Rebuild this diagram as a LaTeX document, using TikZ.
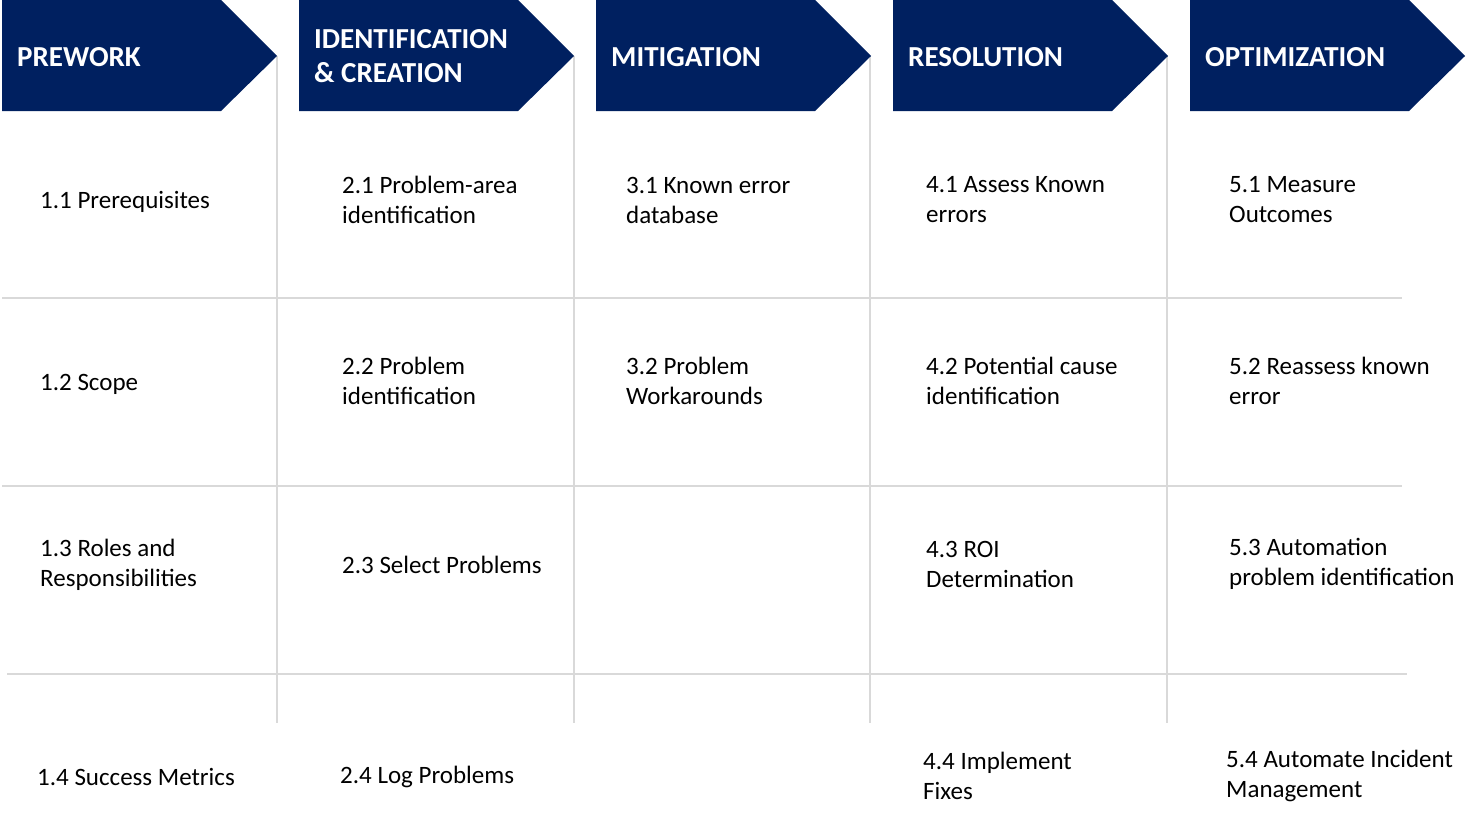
\documentclass[tikz,border=0pt]{standalone}
\usepackage{fontspec}
\setmainfont{Carlito}
\definecolor{navy}{RGB}{0,32,96}
\definecolor{gridgray}{RGB}{217,217,217}
\begin{document}
\begin{tikzpicture}[x=1pt,y=-1pt,
  grid/.style={draw=gridgray,line width=2pt},
  head/.style={fill=navy},
  headtext/.style={anchor=west,inner sep=0pt,text=white,font=\fontsize{29}{34}\selectfont\bfseries,align=left},
  item/.style={anchor=west,inner sep=0pt,font=\fontsize{25}{30}\selectfont,align=left,text=black}]
\useasboundingbox (0,0) rectangle (1477,822);
\fill[white] (0,0) rectangle (1477,822);
% grid lines
\foreach \x in {277,574,870,1167} \draw[grid] (\x,56) -- (\x,723);
\draw[grid] (2,298) -- (1402,298);
\draw[grid] (2,486) -- (1402,486);
\draw[grid] (7,674) -- (1407,674);
% header chevrons
\foreach \x in {2,299,596,893,1190}
  \fill[head] (\x,0) -- (\x+219,0) -- (\x+275,56) -- (\x+219,111) -- (\x,111) -- cycle;
\node[headtext] (h1) at (17,57) {PREWORK};
\node[headtext] (h2) at (314,56) {IDENTIFICATION\\\& CREATION};
\node[headtext] (h3) at (611,57) {MITIGATION};
\node[headtext] (h4) at (908,57) {RESOLUTION};
\node[headtext] (h5) at (1205,57) {OPTIMIZATION};
% column 1
\node[item] (a1) at (40,202) {1.1 Prerequisites};
\node[item] (a2) at (40,384) {1.2 Scope};
\node[item] (a3) at (40,565) {1.3 Roles and\\Responsibilities};
\node[item] (a4) at (37,777) {1.4 Success Metrics};
% column 2
\node[item] (b1) at (342,200) {2.1 Problem-area\\identification};
\node[item] (b2) at (342,381) {2.2 Problem\\identification};
\node[item] (b3) at (342,565) {2.3 Select Problems};
\node[item] (b4) at (340,777) {2.4 Log Problems};
% column 3
\node[item] (c1) at (626,200) {3.1 Known error\\database};
\node[item] (c2) at (626,381) {3.2 Problem\\Workarounds};
% column 4
\node[item] (d1) at (926,200) {4.1 Assess Known\\errors};
\node[item] (d2) at (926,381) {4.2 Potential cause\\identification};
\node[item] (d3) at (926,564) {4.3 ROI\\Determination};
\node[item] (d4) at (923,776) {4.4 Implement\\Fixes};
% column 5
\node[item] (e1) at (1229,200) {5.1 Measure\\Outcomes};
\node[item] (e2) at (1229,381) {5.2 Reassess known\\error};
\node[item] (e3) at (1229,564) {5.3 Automation\\problem identification};
\node[item] (e4) at (1226,776) {5.4 Automate Incident\\Management};
\end{tikzpicture}
\end{document}
